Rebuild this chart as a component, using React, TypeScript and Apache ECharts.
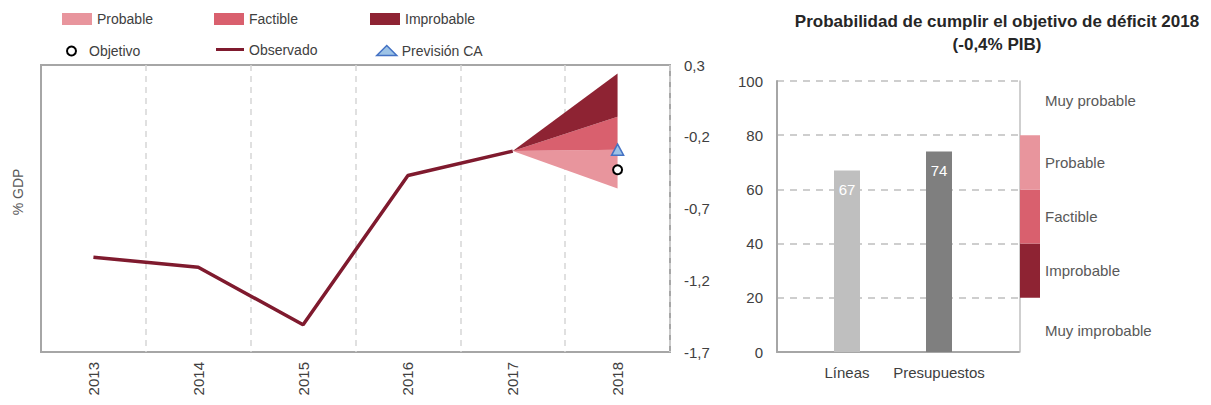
import React, { useEffect, useRef } from "react";
import * as echarts from "echarts";

// ---------- data ----------
const years = ["2013", "2014", "2015", "2016", "2017", "2018"];
const observed = [-1.04, -1.11, -1.51, -0.47, -0.3, null];
const fanLow = [null, null, null, null, -0.3, -0.56];
const fanProbableTop = [null, null, null, null, -0.3, -0.29];
const fanFactibleTop = [null, null, null, null, -0.3, -0.06];
const fanImprobableTop = [null, null, null, null, -0.3, 0.24];
const objetivo = [null, null, null, null, null, -0.43];
const prevision = [null, null, null, null, null, -0.29];
const leftTicks = [-1.7, -1.2, -0.7, -0.2, 0.3];

const probCategories = ["Líneas", "Presupuestos"];
const probValues = [67, 74];
const zoneLabels = ["Muy improbable", "Improbable", "Factible", "Probable", "Muy probable"];
const zoneSizes = [20, 20, 20, 20, 20];

// ---------- styles ----------
const FONT = '"Liberation Sans", Arial, sans-serif';
const C_PROB = "#E8959D";
const C_FACT = "#D9606E";
const C_IMPR = "#8E2333";
const C_OBS = "#7F1A2E";
const TXT = "#404040";
const OFF = -leftTicks[0]; // shift so axis min is 0

const shift = (arr: (number | null)[]) => arr.map((v) => (v == null ? null : +(v + OFF).toFixed(4)));
const diff = (a: (number | null)[], b: (number | null)[]) =>
  a.map((v, i) => (v == null || b[i] == null ? null : +((v as number) - (b[i] as number)).toFixed(4)));

const zoneColors = ["rgba(0,0,0,0)", C_IMPR, C_FACT, C_PROB, "rgba(0,0,0,0)"];
const zoneOffsets = [[0, 6], [0, 0], [0, 0], [0, 0], [0, -8]];

export default function App() {
  const ref = useRef<HTMLDivElement>(null);
  useEffect(() => {
    if (!ref.current) return;
    const chart = echarts.init(ref.current, null, { renderer: "svg" });
    const legendBase = {
      orient: "horizontal",
      padding: 0,
      textStyle: { fontSize: 14, color: TXT, fontFamily: FONT },
      selectedMode: false,
    };
    const option: any = {
      animation: false,
      backgroundColor: "#fff",
      textStyle: { fontFamily: FONT },
      legend: [
        { ...legendBase, data: [{ name: "Probable", icon: "rect" }], left: 62, top: 12, itemWidth: 30, itemHeight: 12 },
        { ...legendBase, data: [{ name: "Factible", icon: "rect" }], left: 214, top: 12, itemWidth: 30, itemHeight: 12 },
        { ...legendBase, data: [{ name: "Improbable", icon: "rect" }], left: 370, top: 12, itemWidth: 30, itemHeight: 12 },
        {
          ...legendBase,
          data: [{ name: "Objetivo", icon: "circle" }],
          left: 66,
          top: 44,
          itemWidth: 25,
          itemHeight: 9,
          itemStyle: { color: "#fff", borderColor: "#000", borderWidth: 2 },
        },
        {
          ...legendBase,
          data: [{ name: "Observado", icon: "path://M0,0H28V3H0Z" }],
          left: 216,
          top: 42.5,
          itemWidth: 28,
          itemHeight: 14,
          symbolKeepAspect: true,
          itemStyle: { color: C_OBS, borderWidth: 0 },
        },
        {
          ...legendBase,
          data: [{ name: "Previsión CA", icon: "triangle" }],
          left: 376,
          top: 43.5,
          itemWidth: 20,
          itemHeight: 10,
          itemStyle: { color: "#9DC3E6", borderColor: "#4472C4", borderWidth: 1.5 },
        },
      ],
      grid: [
        { left: 41, top: 65, width: 629, height: 287, show: true, borderColor: "#A6A6A6", borderWidth: 2 },
        { left: 777, top: 81, width: 242, height: 271 },
        { left: 801, top: 81, width: 184, height: 271 },
        { left: 1020, top: 81, width: 20, height: 271 },
      ],
      xAxis: [
        {
          gridIndex: 0,
          type: "category",
          data: years,
          boundaryGap: true,
          axisLine: { show: false },
          axisTick: { show: false },
          axisLabel: { rotate: 90, fontSize: 15, color: TXT, margin: 10, fontFamily: FONT },
          splitLine: {
            show: true,
            interval: (i: number) => i !== 0,
            lineStyle: { color: "#D6D6D6", type: [6, 5], width: 1.5 },
          },
        },
        {
          gridIndex: 1,
          type: "category",
          data: [""],
          axisLine: { show: true, lineStyle: { color: "#A6A6A6", width: 2 } },
          axisTick: { show: false },
          axisLabel: { show: false },
        },
        {
          gridIndex: 2,
          type: "category",
          data: probCategories,
          axisLine: { show: false },
          axisTick: { show: false },
          axisLabel: { interval: 0, fontSize: 15, color: TXT, margin: 13, fontFamily: FONT },
        },
        { gridIndex: 3, type: "category", data: [""], show: false },
      ],
      yAxis: [
        {
          gridIndex: 0,
          type: "value",
          position: "right",
          min: 0,
          max: leftTicks[leftTicks.length - 1] + OFF,
          interval: 0.5,
          axisLine: { show: false },
          axisTick: { show: false },
          splitLine: { show: false },
          axisLabel: {
            margin: 14,
            fontSize: 15,
            color: TXT,
            fontFamily: FONT,
            formatter: (v: number) => (v - OFF).toFixed(1).replace(".", ","),
          },
        },
        {
          gridIndex: 1,
          type: "value",
          min: 0,
          max: 100,
          interval: 20,
          axisLine: { show: true, lineStyle: { color: "#A6A6A6", width: 2 } },
          axisTick: { show: false },
          axisLabel: { margin: 14, fontSize: 15, color: TXT, fontFamily: FONT },
          splitLine: { show: true, lineStyle: { color: "#BFBFBF", type: [7, 6], width: 1.5 } },
        },
        { gridIndex: 2, type: "value", min: 0, max: 100, show: false },
        {
          gridIndex: 3,
          type: "value",
          min: 0,
          max: 100,
          axisLine: { show: true, lineStyle: { color: "#BFBFBF", width: 1.5 } },
          axisTick: { show: false },
          axisLabel: { show: false },
          splitLine: { show: false },
        },
      ],
      graphic: [
        {
          type: "text",
          x: 18,
          y: 192,
          rotation: Math.PI / 2,
          style: {
            text: "% GDP",
            fill: "#595959",
            font: `14px ${FONT}`,
            textAlign: "center",
            textVerticalAlign: "middle",
          },
        },
        {
          type: "text",
          x: 997,
          y: 21,
          style: {
            text: "Probabilidad de cumplir el objetivo de déficit 2018",
            fill: "#262626",
            font: `bold 17px ${FONT}`,
            textAlign: "center",
            textVerticalAlign: "middle",
          },
        },
        {
          type: "text",
          x: 997,
          y: 44,
          style: {
            text: "(-0,4% PIB)",
            fill: "#262626",
            font: `bold 17px ${FONT}`,
            textAlign: "center",
            textVerticalAlign: "middle",
          },
        },
      ],
      series: [
        {
          name: "fanBase",
          type: "line",
          xAxisIndex: 0,
          yAxisIndex: 0,
          stack: "fan",
          data: shift(fanLow),
          symbol: "none",
          lineStyle: { width: 0, opacity: 0 },
          silent: true,
        },
        {
          name: "Probable",
          type: "line",
          xAxisIndex: 0,
          yAxisIndex: 0,
          stack: "fan",
          data: diff(fanProbableTop, fanLow),
          symbol: "none",
          color: C_PROB,
          itemStyle: { color: C_PROB },
          lineStyle: { width: 0 },
          areaStyle: { color: C_PROB, opacity: 1 },
        },
        {
          name: "Factible",
          type: "line",
          xAxisIndex: 0,
          yAxisIndex: 0,
          stack: "fan",
          data: diff(fanFactibleTop, fanProbableTop),
          symbol: "none",
          color: C_FACT,
          itemStyle: { color: C_FACT },
          lineStyle: { width: 0 },
          areaStyle: { color: C_FACT, opacity: 1 },
        },
        {
          name: "Improbable",
          type: "line",
          xAxisIndex: 0,
          yAxisIndex: 0,
          stack: "fan",
          data: diff(fanImprobableTop, fanFactibleTop),
          symbol: "none",
          color: C_IMPR,
          itemStyle: { color: C_IMPR },
          lineStyle: { width: 0 },
          areaStyle: { color: C_IMPR, opacity: 1 },
        },
        {
          name: "Observado",
          type: "line",
          xAxisIndex: 0,
          yAxisIndex: 0,
          data: shift(observed),
          symbol: "none",
          color: C_OBS,
          lineStyle: { color: C_OBS, width: 3.5 },
          z: 5,
        },
        {
          name: "Objetivo",
          type: "scatter",
          xAxisIndex: 0,
          yAxisIndex: 0,
          data: shift(objetivo),
          symbol: "circle",
          symbolSize: 9,
          itemStyle: { color: "#fff", borderColor: "#000", borderWidth: 2, opacity: 1 },
          z: 6,
        },
        {
          name: "Previsión CA",
          type: "scatter",
          xAxisIndex: 0,
          yAxisIndex: 0,
          data: shift(prevision),
          symbol: "triangle",
          symbolSize: [12, 11],
          itemStyle: { color: "#9DC3E6", borderColor: "#4472C4", borderWidth: 1.5, opacity: 1 },
          z: 6,
        },
        {
          name: "prob",
          type: "bar",
          xAxisIndex: 2,
          yAxisIndex: 2,
          barWidth: 26,
          data: probValues.map((v, i) => ({
            value: v,
            itemStyle: { color: i === 0 ? "#BFBFBF" : "#7F7F7F" },
          })),
          label: {
            show: true,
            position: "insideTop",
            distance: 12,
            color: "#fff",
            fontSize: 15,
            fontFamily: FONT,
          },
        },
        ...zoneLabels.map((name, i) => ({
          name: "zone-" + name,
          type: "bar",
          xAxisIndex: 3,
          yAxisIndex: 3,
          stack: "zone",
          barWidth: "100%",
          data: [zoneSizes[i]],
          itemStyle: { color: zoneColors[i] },
          silent: true,
          label: {
            show: true,
            position: "right",
            distance: 5,
            offset: zoneOffsets[i],
            formatter: name,
            color: "#595959",
            fontSize: 15,
            fontFamily: FONT,
          },
        })),
      ],
    };
    chart.setOption(option);
    return () => chart.dispose();
  }, []);
  return (
    <div
      ref={ref}
      style={{ position: "fixed", left: 0, top: 0, width: 1211, height: 405, background: "#fff" }}
    />
  );
}
